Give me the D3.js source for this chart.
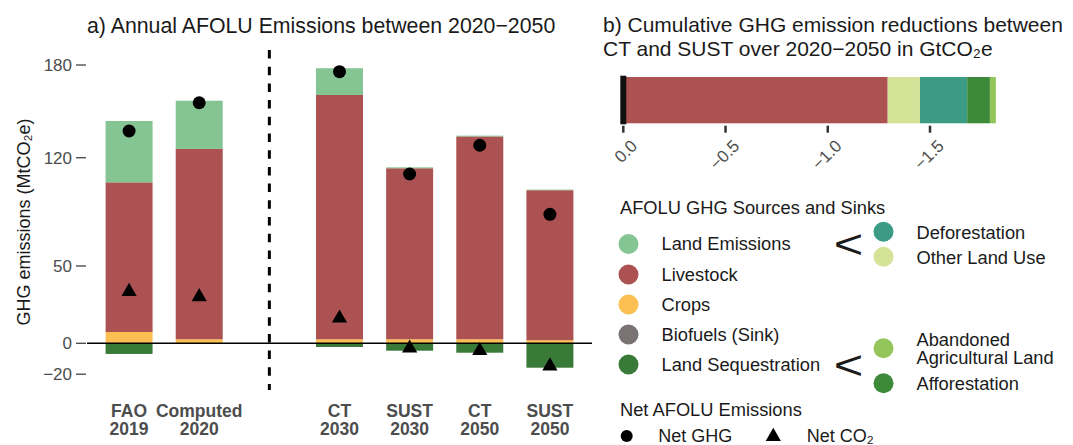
<!DOCTYPE html>
<html>
<head>
<meta charset="utf-8">
<script src="https://cdn.jsdelivr.net/npm/d3@7"></script>
<style>
  html, body { margin: 0; padding: 0; background: #fff; }
  svg { display: block; font-family: "Liberation Sans", Arial, sans-serif; }
</style>
</head>
<body>
<svg id="chart" width="1073" height="445"></svg>
<script>
// ---------- DATA ----------
const categories = ["FAO 2019", "Computed 2020", "CT 2030", "SUST 2030", "CT 2050", "SUST 2050"];
const labelTop = ["FAO", "Computed", "CT", "SUST", "CT", "SUST"];
const labelBottom = ["2019", "2020", "2030", "2030", "2050", "2050"];

const sequestration = [-6.9, 0, -2.4, -4.8, -6.1, -15.8];
const biofuels = [0, 0, 0, 0, 0, 0];
const crops = [7.3, 2.6, 2.6, 2.6, 2.6, 2.0];
const livestock = [96.8, 123.1, 158.0, 110.6, 131.2, 97.0];
const landEmissions = [39.7, 31.2, 17.3, 0.6, 0.5, 0.4];
const netGHG = [137.3, 155.6, 175.7, 109.5, 128.1, 83.4];
const netCO2 = [33.4, 30.1, 16.2, -3.2, -4.8, -14.7];

const yTicks = [-20, 0, 50, 120, 180];

// Panel b: cumulative reductions (GtCO2e)
const cumCategories = ["Livestock", "Other Land Use", "Deforestation", "Afforestation", "Abandoned Agricultural Land"];
const cumValues = [-1.293, -0.158, -0.231, -0.111, -0.029];
const cumTicks = [0, -0.5, -1.0, -1.5];

// Legend
const legendMain = ["Land Emissions", "Livestock", "Crops", "Biofuels (Sink)", "Land Sequestration"];
const legendLand = ["Deforestation", "Other Land Use"];
const legendSeq = ["Abandoned Agricultural Land", "Afforestation"];

const colors = {
  "Land Emissions": "#85c493",
  "Livestock": "#ac5252",
  "Crops": "#fcbf52",
  "Biofuels (Sink)": "#7a7373",
  "Land Sequestration": "#397a39",
  "Deforestation": "#3b9b85",
  "Other Land Use": "#d5e398",
  "Abandoned Agricultural Land": "#93c55a",
  "Afforestation": "#3e8a3b"
};

// ---------- SETUP ----------
const svg = d3.select("#chart");
const ink = "#1a1a1a", tickGray = "#4d4d4d", tickLine = "#333333";

// ---------- PANEL A ----------
const slots = [categories[0], categories[1], "divider", ...categories.slice(2)];
const x = d3.scalePoint().domain(slots).range([87, 592]).padding(0.6);
const barW = x.step() * 0.67;
const y = d3.scaleLinear().domain([-20, 180]).range([374.2, 65]);

svg.append("text").attr("x", 87).attr("y", 33)
  .attr("font-size", 21.3).attr("fill", ink)
  .text("a) Annual AFOLU Emissions between 2020\u22122050");

// stacked bars
const posLayers = [["Crops", crops], ["Livestock", livestock], ["Land Emissions", landEmissions]];
const negLayers = [["Biofuels (Sink)", biofuels], ["Land Sequestration", sequestration]];
const gBars = svg.append("g");
categories.forEach((c, i) => {
  let base = 0;
  posLayers.forEach(([name, arr]) => {
    const v = arr[i];
    if (v > 0) {
      gBars.append("rect")
        .attr("x", x(c) - barW / 2).attr("width", barW)
        .attr("y", y(base + v)).attr("height", y(base) - y(base + v))
        .attr("fill", colors[name]);
    }
    base += v;
  });
  let nb = 0;
  negLayers.forEach(([name, arr]) => {
    const v = arr[i];
    if (v < 0) {
      gBars.append("rect")
        .attr("x", x(c) - barW / 2).attr("width", barW)
        .attr("y", y(nb)).attr("height", y(nb + v) - y(nb))
        .attr("fill", colors[name]);
    }
    nb += v;
  });
});

// zero line
svg.append("line").attr("x1", 87).attr("x2", 592)
  .attr("y1", y(0)).attr("y2", y(0))
  .attr("stroke", "#000").attr("stroke-width", 1.5);

// dashed divider
svg.append("line").attr("x1", x("divider")).attr("x2", x("divider"))
  .attr("y1", 50).attr("y2", 390)
  .attr("stroke", "#000").attr("stroke-width", 3)
  .attr("stroke-dasharray", "8.5,8.2");

// y axis (ticks + labels only)
const yAxis = svg.append("g");
yTicks.forEach(t => {
  yAxis.append("line").attr("x1", 76).attr("x2", 86)
    .attr("y1", y(t)).attr("y2", y(t))
    .attr("stroke", tickLine).attr("stroke-width", 1.2);
  yAxis.append("text").attr("x", 72).attr("y", y(t)).attr("dy", "0.35em")
    .attr("text-anchor", "end").attr("font-size", 17).attr("fill", tickGray)
    .text(t < 0 ? "\u2212" + Math.abs(t) : t);
});
svg.append("text")
  .attr("transform", "translate(30,222) rotate(-90)")
  .attr("text-anchor", "middle").attr("font-size", 18).attr("fill", ink)
  .text("GHG emissions (MtCO\u2082e)");

// x labels
categories.forEach((c, i) => {
  svg.append("text").attr("x", x(c)).attr("y", 416.5)
    .attr("text-anchor", "middle").attr("font-size", 17.5).attr("font-weight", "bold")
    .attr("fill", tickGray).text(labelTop[i]);
  svg.append("text").attr("x", x(c)).attr("y", 435)
    .attr("text-anchor", "middle").attr("font-size", 17.5).attr("font-weight", "bold")
    .attr("fill", tickGray).text(labelBottom[i]);
});

// points
svg.append("g").selectAll("circle").data(categories).join("circle")
  .attr("cx", c => x(c)).attr("cy", (c, i) => y(netGHG[i])).attr("r", 6.5).attr("fill", "#000");
const tri = d3.symbol().type(d3.symbolTriangle).size(100);
svg.append("g").selectAll("path").data(categories).join("path")
  .attr("d", tri).attr("transform", (c, i) => `translate(${x(c)},${y(netCO2[i])})`)
  .attr("fill", "#000");

// ---------- PANEL B ----------
svg.append("text").attr("x", 603).attr("y", 32).attr("font-size", 21).attr("fill", ink)
  .text("b) Cumulative GHG emission reductions between");
svg.append("text").attr("x", 603).attr("y", 55.5).attr("font-size", 21).attr("fill", ink)
  .text("CT and SUST over 2020\u22122050 in GtCO\u2082e");

const xb = d3.scaleLinear().domain([0, -1.5]).range([623.3, 930]);
let acc = 0;
cumCategories.forEach((name, i) => {
  const v = cumValues[i];
  svg.append("rect")
    .attr("x", xb(acc)).attr("width", xb(acc + v) - xb(acc))
    .attr("y", 77).attr("height", 46.3)
    .attr("fill", colors[name]);
  acc += v;
});
svg.append("line").attr("x1", xb(0)).attr("x2", xb(0)).attr("y1", 75.7).attr("y2", 124.3)
  .attr("stroke", "#111").attr("stroke-width", 6);
cumTicks.forEach(t => {
  svg.append("line").attr("x1", xb(t)).attr("x2", xb(t)).attr("y1", 125.7).attr("y2", 132.7)
    .attr("stroke", tickLine).attr("stroke-width", 2.5);
  const lab = t === 0 ? "0.0" : "\u2212" + Math.abs(t).toFixed(1);
  svg.append("text")
    .attr("transform", `translate(${xb(t) + 15},147) rotate(-45)`)
    .attr("text-anchor", "end").attr("font-size", 17).attr("fill", tickGray)
    .text(lab);
});

// ---------- LEGEND ----------
svg.append("text").attr("x", 620).attr("y", 213.5).attr("font-size", 18.3).attr("fill", ink)
  .text("AFOLU GHG Sources and Sinks");
const mainY = [244, 274.5, 304.5, 334.5, 364.5];
legendMain.forEach((name, i) => {
  svg.append("circle").attr("cx", 628.5).attr("cy", mainY[i]).attr("r", 10).attr("fill", colors[name]);
  svg.append("text").attr("x", 661.5).attr("y", mainY[i]).attr("dy", "0.35em")
    .attr("font-size", 18.3).attr("fill", ink).text(name);
});
// brackets "<"
[243.5, 365].forEach(cy => {
  svg.append("text")
    .attr("transform", `translate(848.5,${cy + 14}) scale(1.15,0.92)`)
    .attr("text-anchor", "middle").attr("font-size", 44).attr("fill", ink).text("<");
});
const landY = [231.7, 256.7];
legendLand.forEach((name, i) => {
  svg.append("circle").attr("cx", 883.5).attr("cy", landY[i]).attr("r", 10).attr("fill", colors[name]);
  svg.append("text").attr("x", 916.5).attr("y", landY[i] + 1).attr("dy", "0.35em")
    .attr("font-size", 18.3).attr("fill", ink).text(name);
});
svg.append("circle").attr("cx", 883.5).attr("cy", 348.3).attr("r", 10).attr("fill", colors[legendSeq[0]]);
svg.append("text").attr("x", 916.5).attr("y", 339.3).attr("dy", "0.35em")
  .attr("font-size", 18.3).attr("fill", ink).text("Abandoned");
svg.append("text").attr("x", 916.5).attr("y", 357.3).attr("dy", "0.35em")
  .attr("font-size", 18.3).attr("fill", ink).text("Agricultural Land");
svg.append("circle").attr("cx", 883.5).attr("cy", 383.3).attr("r", 10).attr("fill", colors[legendSeq[1]]);
svg.append("text").attr("x", 916.5).attr("y", 383.3).attr("dy", "0.35em")
  .attr("font-size", 18.3).attr("fill", ink).text("Afforestation");

svg.append("text").attr("x", 620).attr("y", 416).attr("font-size", 18.3).attr("fill", ink)
  .text("Net AFOLU Emissions");
svg.append("circle").attr("cx", 626.7).attr("cy", 436).attr("r", 6).attr("fill", "#000");
svg.append("text").attr("x", 658.3).attr("y", 435.5).attr("dy", "0.35em")
  .attr("font-size", 18).attr("fill", ink).text("Net GHG");
svg.append("path").attr("d", tri).attr("transform", "translate(773.3,436.5)").attr("fill", "#000");
svg.append("text").attr("x", 806.7).attr("y", 435.5).attr("dy", "0.35em")
  .attr("font-size", 18).attr("fill", ink).text("Net CO\u2082");
</script>
</body>
</html>
